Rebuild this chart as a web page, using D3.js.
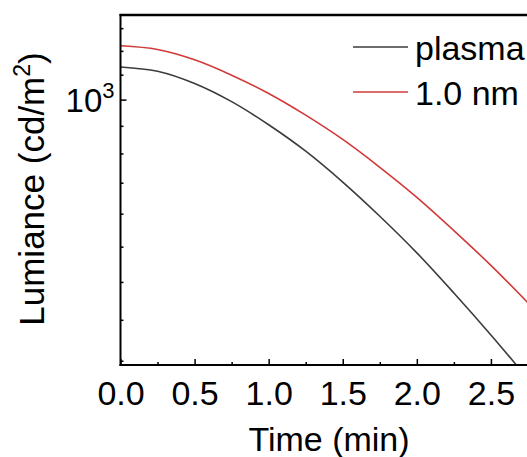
<!DOCTYPE html>
<html>
<head>
<meta charset="utf-8">
<script src="https://cdn.jsdelivr.net/npm/d3@7"></script>
<style>
  html, body { margin: 0; padding: 0; background: #fff; overflow: hidden; }
  text { font-family: "Liberation Sans", Arial, sans-serif; fill: #000; }
</style>
</head>
<body>
<svg id="chart" width="527" height="457"></svg>
<script>
// time axis (min)
const times = [0, 0.25, 0.5, 0.75, 1.0, 1.25, 1.5, 1.75, 2.0, 2.25, 2.5, 2.75];
// luminance (cd/m2)
const plasma = [1066, 1057, 1032, 996, 952, 904, 851, 796, 741, 685, 631, 579];
const nm10 = [1111, 1103, 1081, 1049, 1012, 970, 925, 876, 826, 774, 723, 672];

const seriesNames = ['plasma', '1.0 nm'];
const seriesColors = ['#3c3c3c', '#d23a3a'];

const xMajor = [0, 0.5, 1.0, 1.5, 2.0, 2.5];
const xMinor = [0.25, 0.75, 1.25, 1.75, 2.25];
const yMajor = [1000];
const yMinor = [600, 650, 700, 750, 800, 850, 900, 950, 1050, 1100, 1150];

const plotL = 120.5, plotR = 565, plotT = 15, plotB = 365;

const svg = d3.select('#chart');

const x = d3.scaleLinear().domain([0, 3]).range([plotL, plotR]);
const y = d3.scaleLog().domain([595, 1180]).range([plotB, plotT]);

// clip for the curves
svg.append('defs').append('clipPath').attr('id', 'plot')
  .append('rect')
  .attr('x', plotL).attr('y', plotT)
  .attr('width', plotR - plotL).attr('height', plotB - plotT);

const line = d3.line()
  .x((d, i) => x(times[i]))
  .y(d => y(d))
  .curve(d3.curveCatmullRom);

const lines = svg.append('g').attr('clip-path', 'url(#plot)');
[plasma, nm10].forEach((vals, i) => {
  lines.append('path')
    .attr('d', line(vals))
    .attr('fill', 'none')
    .attr('stroke', seriesColors[i])
    .attr('stroke-width', 1.6);
});

// bottom axis: inward ticks
const xAxis = svg.append('g')
  .attr('transform', `translate(0,${plotB})`)
  .call(d3.axisBottom(x).tickValues(xMajor).tickSize(-6)
    .tickFormat(d3.format('.1f')));
xAxis.select('.domain').remove();
xAxis.selectAll('line').attr('stroke', '#000').attr('stroke-width', 1.5);
xAxis.selectAll('text').attr('font-size', 34).attr('dy', null)
  .attr('y', 40).attr('font-family', '"Liberation Sans", Arial, sans-serif');

const xMin = svg.append('g')
  .attr('transform', `translate(0,${plotB})`)
  .call(d3.axisBottom(x).tickValues(xMinor).tickSize(-3).tickFormat(''));
xMin.select('.domain').remove();
xMin.selectAll('line').attr('stroke', '#000').attr('stroke-width', 1.5);

// left axis
const yAxis = svg.append('g')
  .attr('transform', `translate(${plotL},0)`)
  .call(d3.axisLeft(y).tickValues(yMajor).tickSize(-6).tickFormat(''));
yAxis.select('.domain').remove();
yAxis.selectAll('line').attr('stroke', '#000').attr('stroke-width', 1.5);
yAxis.selectAll('.tick').append('text')
  .attr('x', -6).attr('dy', 12)
  .attr('text-anchor', 'end')
  .attr('font-size', 33)
  .attr('fill', '#000')
  .attr('font-family', '"Liberation Sans", Arial, sans-serif')
  .each(function (d) {
    const t = d3.select(this);
    const exp = Math.round(Math.log10(d));
    t.append('tspan').text('10');
    t.append('tspan').text(exp).attr('font-size', 22).attr('dy', -14);
  });

const yMin = svg.append('g')
  .attr('transform', `translate(${plotL},0)`)
  .call(d3.axisLeft(y).tickValues(yMinor).tickSize(-3).tickFormat(''));
yMin.select('.domain').remove();
yMin.selectAll('line').attr('stroke', '#000').attr('stroke-width', 1.5);

// frame
svg.append('line').attr('x1', plotL).attr('x2', plotL).attr('y1', plotT - 1).attr('y2', plotB + 1)
  .attr('stroke', '#000').attr('stroke-width', 2);
svg.append('line').attr('x1', plotL - 1).attr('x2', plotR).attr('y1', plotB).attr('y2', plotB)
  .attr('stroke', '#000').attr('stroke-width', 2);
svg.append('line').attr('x1', plotL - 1).attr('x2', plotR).attr('y1', plotT).attr('y2', plotT)
  .attr('stroke', '#000').attr('stroke-width', 2.4);

// titles
svg.append('text')
  .attr('x', 329).attr('y', 451)
  .attr('text-anchor', 'middle').attr('font-size', 34)
  .text('Time (min)');

const yTitle = svg.append('text')
  .attr('transform', 'translate(44,189) rotate(-90)')
  .attr('text-anchor', 'middle').attr('font-size', 35);
yTitle.append('tspan').text('Lumiance (cd/m');
yTitle.append('tspan').text('2').attr('font-size', 23).attr('dy', -14);
yTitle.append('tspan').text(')').attr('dy', 14);

// legend
const legend = svg.append('g');
seriesNames.forEach((name, i) => {
  const ly = 47 + i * 45;
  legend.append('line')
    .attr('x1', 353).attr('x2', 408).attr('y1', ly).attr('y2', ly)
    .attr('stroke', seriesColors[i]).attr('stroke-width', 1.6);
  legend.append('text')
    .attr('x', 415).attr('y', ly + 12.5)
    .attr('font-size', 34)
    .text(name);
});
</script>
</body>
</html>
